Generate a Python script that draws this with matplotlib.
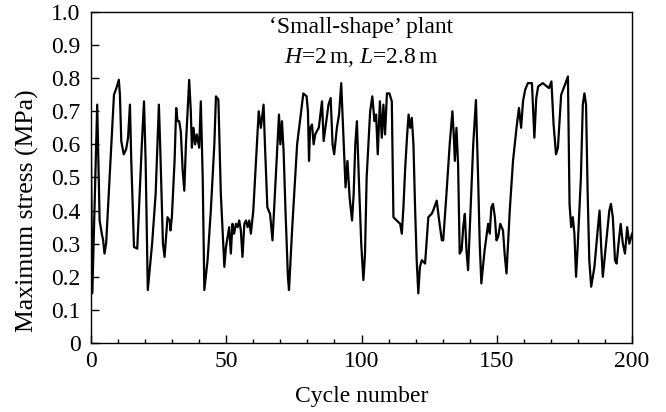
import matplotlib
matplotlib.use("Agg")
import matplotlib.pyplot as plt
from matplotlib.ticker import MultipleLocator, FuncFormatter

# (cycle number, max stress in MPa)
cycle = [
    0.0, 0.5, 2.3, 3.2, 4.0, 4.5, 5.0, 5.6, 7.2, 8.5, 9.4, 10.3, 10.7, 11.2, 12.1, 13.0, 13.7, 14.4, 14.9,
    15.9, 17.1, 18.0, 18.8, 19.6, 20.2, 21.0, 22.6, 23.9, 25.1, 25.6, 26.6, 27.2, 28.3, 29.1, 29.4, 29.9,
    30.9, 31.5, 32.0, 32.6, 33.2, 33.9, 34.5, 35.1, 35.7, 36.3, 36.9, 37.3, 37.9, 38.5, 39.1, 40.0, 40.6,
    41.3, 41.9, 43.1, 44.3, 45.6, 46.2, 47.1, 48.0, 49.3, 49.9, 51.1, 51.7, 52.3, 52.9, 53.6, 54.2, 54.8,
    55.4, 56.0, 56.7, 57.3, 57.9, 58.5, 59.1, 60.0, 61.0, 62.0, 62.8, 63.8, 64.3, 65.2, 66.2, 67.1, 67.8,
    68.6, 69.5, 70.0, 70.6, 71.2, 71.9, 72.8, 73.2, 74.4, 76.2, 78.5, 79.7, 80.2, 80.6, 81.0, 81.7, 82.3,
    82.9, 83.5, 84.2, 85.4, 86.0, 87.0, 87.8, 88.6, 89.3, 89.9, 90.9, 91.7, 92.5, 93.2, 94.1, 94.8, 95.6,
    96.5, 97.1, 97.7, 98.3, 99.0, 99.9, 100.7, 101.3, 101.9, 103.2, 104.0, 104.8, 105.4, 106.0, 106.8,
    107.5, 108.1, 108.7, 109.4, 110.3, 111.2, 111.8, 113.0, 114.3, 114.9, 115.5, 116.1, 116.8, 117.4,
    118.0, 118.6, 119.2, 119.8, 120.4, 121.0, 121.6, 122.3, 123.5, 124.7, 125.9, 126.5, 127.8, 128.7,
    129.7, 130.2, 131.4, 132.6, 133.6, 134.1, 134.5, 135.1, 135.7, 136.3, 137.0, 137.6, 138.2, 138.8,
    139.4, 140.3, 141.3, 142.3, 143.1, 143.7, 144.3, 145.5, 146.8, 147.4, 148.0, 148.6, 149.3, 149.9,
    150.5, 151.3, 152.3, 152.9, 153.6, 154.8, 156.0, 157.3, 158.2, 159.0, 159.7, 160.5, 161.5, 163.0,
    163.9, 164.6, 165.3, 167.0, 168.5, 169.3, 170.2, 171.0, 171.9, 172.6, 173.8, 175.2, 176.3, 176.9,
    177.5, 178.1, 178.7, 179.3, 179.9, 181.1, 181.8, 182.4, 183.0, 183.6, 184.2, 184.9, 186.1, 187.4,
    188.0, 188.6, 189.2, 190.4, 191.6, 192.2, 192.9, 193.7, 194.3, 195.0, 195.8, 196.6, 197.4, 198.2,
    199.0, 200.0,
]
stress = [
    0.58, 0.15, 0.72, 0.37, 0.33, 0.31, 0.27, 0.30, 0.55, 0.75, 0.77, 0.795, 0.75, 0.61, 0.57, 0.585, 0.62, 0.72, 0.55,
    0.29, 0.285, 0.45, 0.60, 0.73, 0.55, 0.16, 0.30, 0.45, 0.72, 0.59, 0.30, 0.26, 0.38, 0.37, 0.34, 0.38,
    0.55, 0.71, 0.67, 0.67, 0.64, 0.52, 0.46, 0.60, 0.70, 0.795, 0.70, 0.59, 0.65, 0.60, 0.63, 0.59, 0.73,
    0.50, 0.16, 0.25, 0.40, 0.60, 0.745, 0.735, 0.45, 0.23, 0.29, 0.35, 0.27, 0.36, 0.33, 0.36, 0.35, 0.37,
    0.34, 0.26, 0.36, 0.37, 0.35, 0.37, 0.33, 0.40, 0.55, 0.70, 0.65, 0.72, 0.60, 0.41, 0.39, 0.31, 0.42,
    0.55, 0.69, 0.60, 0.67, 0.58, 0.40, 0.20, 0.16, 0.35, 0.60, 0.754, 0.745, 0.70, 0.55, 0.65, 0.66, 0.60,
    0.63, 0.64, 0.65, 0.73, 0.61, 0.67, 0.72, 0.74, 0.60, 0.57, 0.65, 0.69, 0.785, 0.65, 0.47, 0.55, 0.44,
    0.37, 0.45, 0.60, 0.67, 0.50, 0.30, 0.19, 0.27, 0.50, 0.70, 0.745, 0.67, 0.69, 0.57, 0.73,
    0.62, 0.72, 0.63, 0.754, 0.754, 0.73, 0.38, 0.37, 0.36, 0.33, 0.41, 0.52, 0.62, 0.69,
    0.65, 0.68, 0.60, 0.41, 0.25, 0.15, 0.23, 0.25, 0.24, 0.38, 0.39, 0.40, 0.43, 0.37,
    0.31, 0.31, 0.45, 0.60, 0.70, 0.63, 0.55, 0.65, 0.54, 0.27, 0.28, 0.35, 0.39, 0.28,
    0.22, 0.40, 0.60, 0.734, 0.50, 0.30, 0.18, 0.28, 0.36, 0.33, 0.41, 0.42, 0.38, 0.31,
    0.32, 0.36, 0.34, 0.27, 0.21, 0.40, 0.55, 0.65, 0.71, 0.65, 0.73, 0.765, 0.785, 0.785,
    0.62, 0.74, 0.775, 0.785, 0.775, 0.77, 0.79, 0.66, 0.57, 0.59, 0.75, 0.78, 0.805, 0.42,
    0.35, 0.38, 0.33, 0.20, 0.29, 0.50, 0.72, 0.754, 0.72, 0.45, 0.25, 0.17, 0.23, 0.35,
    0.40, 0.29, 0.20, 0.30, 0.40, 0.42, 0.38, 0.25, 0.24, 0.30, 0.36, 0.30, 0.27, 0.35,
    0.30, 0.33,
]

x_ticks = [0, 50, 100, 150, 200]
title_lines = ["\u2018Small-shape\u2019 plant", r"$H$=2$\,$m, $L$=2.8$\,$m"]

plt.rcParams["font.family"] = "Liberation Serif"
plt.rcParams["mathtext.fontset"] = "custom"
plt.rcParams["mathtext.rm"] = "Liberation Serif"
plt.rcParams["mathtext.it"] = "Liberation Serif:italic"

fig = plt.figure(figsize=(6.66, 4.12), dpi=100)
ax = fig.add_axes([0.1366, 0.1675, 0.8124, 0.8035])

ax.plot(cycle, stress, color="black", linewidth=1.6)

ax.set_xlim(0, 200)
ax.set_ylim(0, 1.0)
ax.set_xticks(x_ticks)
ax.xaxis.set_minor_locator(MultipleLocator(10))
ax.yaxis.set_major_locator(MultipleLocator(0.1))
ax.yaxis.set_major_formatter(FuncFormatter(lambda v, p: "0" if abs(v) < 1e-9 else f"{v:.1f}"))

ax.tick_params(which="both", direction="in", labelsize=17, top=False, right=False)
ax.tick_params(which="major", length=6, width=1)
ax.tick_params(which="minor", length=3, width=1)
ax.tick_params(axis="y", pad=7.5)
ax.tick_params(axis="x", pad=6)
for s in ax.spines.values():
    s.set_linewidth(1.0)

ax.set_xlabel("Cycle number", fontsize=17, labelpad=10)
ax.set_ylabel("Maximum stress (MPa)", fontsize=18.5)
ax.yaxis.set_label_coords(-0.096, 0.40)

ax.text(0.5, 0.953, title_lines[0], transform=ax.transAxes, ha="center", va="center", fontsize=17)
ax.text(0.5, 0.861, title_lines[1], transform=ax.transAxes, ha="center", va="center", fontsize=17)

fig.savefig("out.png", dpi=100)
